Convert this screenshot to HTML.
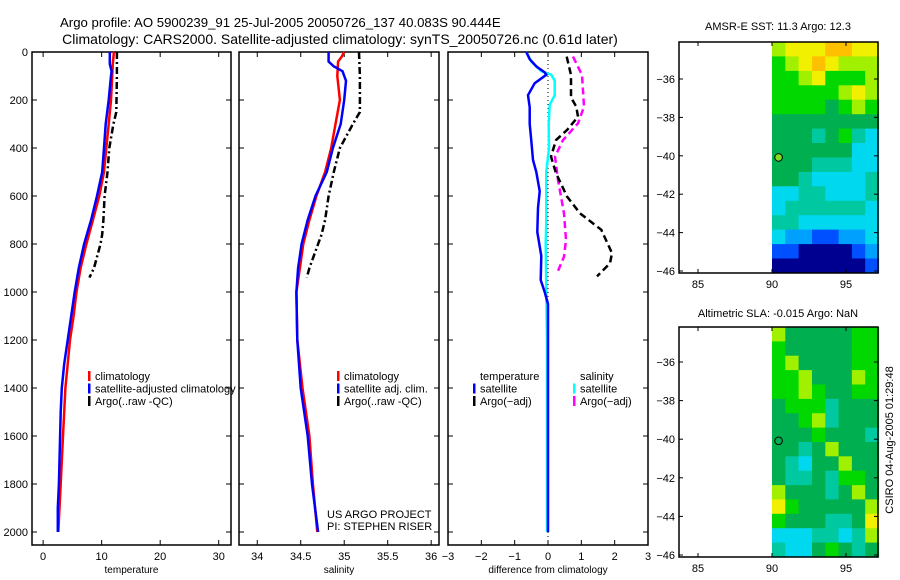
<!DOCTYPE html>
<html><head><meta charset="utf-8"><style>
body{margin:0;background:#fff}
svg{display:block;font-family:"Liberation Sans",sans-serif}
text{fill:#000}
</style></head><body>
<svg id="c" width="900" height="580" xmlns="http://www.w3.org/2000/svg">
<text x="60" y="27" font-size="13.2">Argo profile: AO 5900239_91 25-Jul-2005 20050726_137 40.083S 90.444E</text>
<text x="340" y="44" font-size="14" text-anchor="middle">Climatology: CARS2000. Satellite-adjusted climatology: synTS_20050726.nc (0.61d later)</text>
<text x="778" y="30" font-size="11" text-anchor="middle">AMSR-E SST: 11.3 Argo: 12.3</text>
<text x="778" y="317" font-size="11" text-anchor="middle">Altimetric SLA: -0.015 Argo: NaN</text>
<text transform="translate(893,440) rotate(-90)" font-size="11" text-anchor="middle">CSIRO 04-Aug-2005 01:29:48</text>
<g id="g"></g>
</svg>
<script>
// ---- Depth-profile data ----
const tDepth=[0,50,100,200,300,400,500,600,700,800,900,1000,1100,1200,1300,1400,1600,1800,2000];
const tClim=[12.1,11.9,11.8,11.6,11.2,10.8,10.4,9.6,8.5,7.4,6.4,5.7,5.2,4.6,4.2,3.8,3.4,3.0,2.6];
const tSatDepth=[0,50,80,100,200,300,400,500,600,700,800,900,1000,1100,1200,1300,1400,1500,1600,1700,1800,1900,2000];
const tSat=[11.4,11.4,11.7,11.6,11.2,10.7,10.4,10.1,9.2,8.2,7.0,6.1,5.4,4.8,4.2,3.6,3.2,3.0,2.9,2.8,2.7,2.5,2.5];
const argoDepth=[0,100,250,300,400,500,600,700,760,800,900,940];
const tArgo=[12.6,12.6,12.5,12.0,11.3,11.0,10.5,10.3,10.1,9.8,8.7,7.9];
const sDepth=[0,20,40,100,200,300,400,500,600,700,800,900,1000,1200,1400,1600,1800,2000];
const sClim=[35.0,34.97,34.93,34.92,34.95,34.9,34.85,34.78,34.68,34.6,34.53,34.49,34.45,34.46,34.52,34.6,34.64,34.69];
const sSatDepth=[0,40,60,80,120,200,300,400,500,600,700,800,900,1000,1200,1400,1600,1800,2000];
const sSat=[34.82,34.82,34.88,34.98,35.02,35.0,34.96,34.87,34.8,34.67,34.58,34.51,34.47,34.45,34.46,34.5,34.58,34.63,34.7];
const sArgo=[35.17,35.18,35.18,35.1,34.95,34.88,34.82,34.78,34.74,34.7,34.6,34.57];
const dTSatDepth=[0,30,60,85,95,130,180,230,300,370,450,500,580,650,750,850,950,1000,1050,2000];
const dTSat=[-0.65,-0.55,-0.35,-0.1,-0.05,-0.4,-0.6,-0.55,-0.55,-0.5,-0.45,-0.35,-0.25,-0.3,-0.32,-0.2,-0.22,-0.1,0,0];
const dSSatDepth=[0,40,80,95,120,180,220,300,400,500,600,700,800,1000,1200,2000];
const dSSat=[-0.65,-0.5,-0.2,0.1,0.2,0.2,0.05,0.02,0.03,-0.05,-0.05,-0.05,-0.07,-0.05,-0.03,-0.03];
const dTArgoDepth=[19,96,189,228,270,325,367,436,505,602,672,741,838,880,935];
const dTArgo=[0.56,0.69,0.69,0.85,0.9,0.57,0.24,0.09,0.24,0.57,0.96,1.6,1.92,1.86,1.47];
const dSArgoDepth=[19,96,228,297,367,436,533,672,783,853,922];
const dSArgo=[0.75,1.02,1.08,0.9,0.45,0.21,0.3,0.48,0.54,0.48,0.27];
const depthTicks=[0,200,400,600,800,1000,1200,1400,1600,1800,2000];
const tTicks=[0,10,20,30];
const sTicks=[34,34.5,35,35.5,36];
const dTicks=[-3,-2,-1,0,1,2,3];
// ---- Map data (levels 0..9, rows north->south from -34.2 to -46) ----
const sstRows=["78889988","67898777","66786667","66666787","66665676","55555555","55545643","55555533","55544433","55433334","33443334","34444443","44333333","32211223","11000012","00000001"];
const slaRows=["75555566","65555566","67555566","66755576","66765566","56664555","55674555","55565554","55457555","54355755","54454665","75554575","86555557","65554458","33344347","43356545"];
const lonTicks=[85,90,95];
const latTicks=[-36,-38,-40,-42,-44,-46];
const palette=["#000090","#0050ff","#00a0ff","#00d8f0","#00c8a0","#00b050","#00d800","#a0f000","#f0f000","#ffc000"];

const NS="http://www.w3.org/2000/svg";
const G=document.getElementById('g');
function mk(tag,at,parent){const e=document.createElementNS(NS,tag);for(const k in at)e.setAttribute(k,at[k]);(parent||G).appendChild(e);return e;}
const yD=d=>52+d*0.24;

const panels=[
 {x0:32,x1:231,lo:-1.9,hi:32.1,ticks:tTicks,label:'temperature',name:'temperature-panel'},
 {x0:239,x1:439,lo:33.79,hi:36.09,ticks:sTicks,label:'salinity',name:'salinity-panel'},
 {x0:448,x1:648,lo:-3,hi:3,ticks:dTicks,label:'difference from climatology',name:'difference-panel'}
];
panels.forEach((p,i)=>{
 p.sx=v=>p.x0+(v-p.lo)/(p.hi-p.lo)*(p.x1-p.x0);
 const r=mk('rect',{x:p.x0,y:52,width:p.x1-p.x0,height:493,fill:'none',stroke:'#000','stroke-width':1.5});
 
 
 p.ticks.forEach(t=>{
  const x=p.sx(t);
  mk('line',{x1:x,y1:52,x2:x,y2:57,stroke:'#000'});
  mk('line',{x1:x,y1:545,x2:x,y2:540,stroke:'#000'});
  const tx=mk('text',{x:x,y:560,'font-size':11,'text-anchor':'middle'});
  tx.textContent=(t<0?'\u2212'+(-t):String(t));
  
  
 });
 depthTicks.forEach(d=>{
  mk('line',{x1:p.x0,y1:yD(d),x2:p.x0+5,y2:yD(d),stroke:'#000'});
  mk('line',{x1:p.x1,y1:yD(d),x2:p.x1-5,y2:yD(d),stroke:'#000'});
 });
 const xl=mk('text',{x:(p.x0+p.x1)/2,y:573,'font-size':10,'text-anchor':'middle'});
 xl.textContent=p.label;
 
 
});
depthTicks.forEach(d=>{
 const t=mk('text',{x:28,y:yD(d)+4,'font-size':11,'text-anchor':'end'});
 t.textContent=d;
 
 
});
mk('line',{x1:panels[2].sx(0),y1:52,x2:panels[2].sx(0),y2:545,stroke:'#000','stroke-dasharray':'1,3'});

function line(p,xs,ds,color,dash,name){
 const pts=xs.map((v,i)=>p.sx(v).toFixed(1)+','+yD(ds[i]).toFixed(1)).join(' ');
 const l=mk('polyline',{points:pts,fill:'none',stroke:color,'stroke-width':2.5,'stroke-dasharray':dash||'none'});
 
 
}
const P=panels;
line(P[0],tClim,tDepth,'#ff0000','','temperature-climatology-line');
line(P[0],tSat,tSatDepth,'#0000ff','','temperature-satellite-line');
line(P[0],tArgo,argoDepth,'#000','7,3,2,3','temperature-argo-line');
line(P[1],sClim,sDepth,'#ff0000','','salinity-climatology-line');
line(P[1],sSat,sSatDepth,'#0000ff','','salinity-satellite-line');
line(P[1],sArgo,argoDepth,'#000','7,3,2,3','salinity-argo-line');
line(P[2],dSSat,dSSatDepth,'#00ffff','','salinity-satellite-diff-line');
line(P[2],dTSat,dTSatDepth,'#0000ff','','temperature-satellite-diff-line');
line(P[2],dSArgo,dSArgoDepth,'#ff00ff','7,4','salinity-argo-diff-line');
line(P[2],dTArgo,dTArgoDepth,'#000','7,4','temperature-argo-diff-line');

function legend(x,y,items,name){
 items.forEach((it,i)=>{
  const yy=y+i*12.5;
  if(it[1]) mk('rect',{x:x,y:yy-9,width:2.5,height:10,fill:it[1]});
  const t=mk('text',{x:x+7,y:yy,'font-size':11});
  t.textContent=it[0];
  
  
 });
}
legend(88,380,[['climatology','#f00'],['satellite-adjusted climatology','#00f'],['Argo(..raw -QC)','#000']],'temperature-legend');
legend(337,380,[['climatology','#f00'],['satellite adj. clim.','#00f'],['Argo(..raw -QC)','#000']],'salinity-legend');
legend(473,380,[['temperature',null],['satellite','#00f'],['Argo(\u2212adj)','#000']],'diff-temperature-legend');
legend(573,380,[['salinity',null],['satellite','#0ff'],['Argo(\u2212adj)','#f0f']],'diff-salinity-legend');
const c1=mk('text',{x:327,y:518,'font-size':11});c1.textContent='US ARGO PROJECT';


const c2=mk('text',{x:327,y:530,'font-size':11});c2.textContent='PI: STEPHEN RISER';



function map(top,bot,lat36y,lat46y,rows,name,dotFill){
 const lx=lon=>698+(lon-85)*14.8;
 const ly=lat=>lat36y+(-36-lat)*(lat46y-lat36y)/10;
 const latTop=-36+(lat36y-top)/((lat46y-lat36y)/10);
 const nR=rows.length,nC=rows[0].length;
 const dLat=(latTop-(-46.1))/nR, lon0=90, lon1=97.2, dLon=(lon1-lon0)/nC;
 rows.forEach((row,r)=>{
  [...row].forEach((ch,c)=>{
   const la=latTop-r*dLat, lo=lon0+c*dLon;
   const cell=mk('rect',{x:lx(lo).toFixed(1),y:ly(la).toFixed(1),width:(dLon*14.8+0.6).toFixed(1),height:(dLat*(lat46y-lat36y)/10+0.6).toFixed(1),fill:palette[+ch]});
   
   
  });
 });
 const fr=mk('rect',{x:679,y:top,width:199,height:bot-top,fill:'none',stroke:'#000','stroke-width':1.5});
 
 
 lonTicks.forEach(l=>{
  mk('line',{x1:lx(l),y1:top,x2:lx(l),y2:top+4,stroke:'#000'});
  mk('line',{x1:lx(l),y1:bot,x2:lx(l),y2:bot-4,stroke:'#000'});
  const t=mk('text',{x:lx(l),y:bot+15,'font-size':11,'text-anchor':'middle'});t.textContent=l;
  
  
 });
 latTicks.forEach(l=>{
  mk('line',{x1:679,y1:ly(l),x2:683,y2:ly(l),stroke:'#000'});
  mk('line',{x1:878,y1:ly(l),x2:874,y2:ly(l),stroke:'#000'});
  const t=mk('text',{x:675,y:ly(l)+4,'font-size':11,'text-anchor':'end'});t.textContent='\u2212'+(-l);
  
  
 });
 const d=mk('circle',{cx:lx(90.444),cy:ly(-40.083),r:3.8,fill:dotFill,stroke:'#000','stroke-width':1});
 
 
}
map(42,273,79,271,sstRows,'sst-map','#80e020');
map(327,557,362,555,slaRows,'sla-map','none');
</script>
</body></html>
